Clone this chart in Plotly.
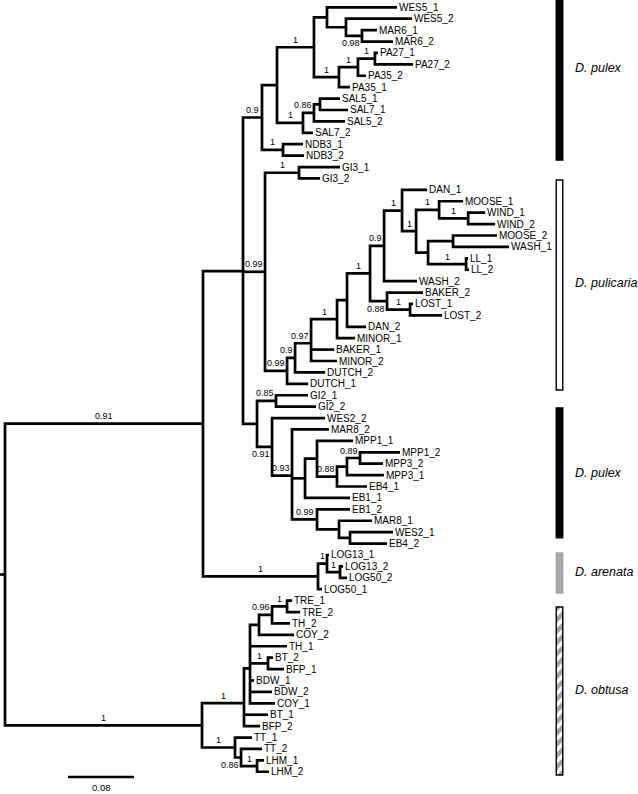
import plotly.graph_objects as go

# ---------------- data: tree in Newick pieces (branch length = subst./site, node label = support)
wes_mar = "(WES5_1:0.0848,(WES5_2:0.0800,(MAR6_1:0.0182,MAR6_2:0.0376)0.98:0.0194):0.0230):0.0158"
pa = "(((PA27_1:0.0036,PA27_2:0.0461)1:0.0206,PA35_2:0.0097)1:0.0230,PA35_1:0.0133)1:0.0303"
sal = "(((SAL5_1:0.0242,SAL7_1:0.0339):0.0073,SAL5_2:0.0376)0.86:0.0133,SAL7_2:0.0121)1:0.0315"
ndb = "(NDB3_1:0.0242,NDB3_2:0.0255)1:0.0255"
pulex_a = "(((" + wes_mar + "," + pa + ")1:0.0448," + sal + "):0.0182," + ndb + ")0.9:0.0230"

gi3 = "(GI3_1:0.0497,GI3_2:0.0255)1:0.0412"
moose_wind = "(MOOSE_1:0.0291,(WIND_1:0.0206,WIND_2:0.0327)1:0.0352)1:0.0279"
wash_ll = "((MOOSE_2:0.0533,WASH_1:0.0679):0.0303,(LL_1:0.0024,LL_2:0.0036)1:0.0461):0.0145"
dan_wash = "((DAN_1:0.0303,(" + moose_wind + "," + wash_ll + ")1:0.0170)1:0.0218,WASH_2:0.0400)0.9:0.0170"
baker_lost = "(BAKER_2:0.0436,(LOST_1:0.0036,LOST_2:0.0388)1:0.0279)0.88:0.0206"
puli_s = "(" + dan_wash + "," + baker_lost + ")1:0.0279"
puli_r = "(" + puli_s + ",DAN_2:0.0230):0.0121"
puli_t = "(" + puli_r + ",MINOR_1:0.0218)1:0.0315"
puli_u = "(" + puli_t + ",BAKER_1:0.0279,MINOR_2:0.0315)0.97:0.0194"
puli_v = "(" + puli_u + ",DUTCH_2:0.0364)0.9:0.0097"
puli_w = "(" + puli_v + ",DUTCH_1:0.0255)0.99:0.0267"
pulicaria = "(" + gi3 + "," + puli_w + ")0.99:0.0267"

gi2 = "(GI2_1:0.0388,GI2_2:0.0485)0.85:0.0230"
mpp_j = "(((MPP1_2:0.0485,MPP3_2:0.0279)0.89:0.0158,MPP3_1:0.0448):0.0121,EB4_1:0.0364)0.88:0.0242"
mpp_g = "((MPP1_1:0.0436," + mpp_j + "):0.0145,EB1_1:0.0545):0.0158"
eb = "(EB1_2:0.0400,(MAR8_1:0.0400,(WES2_1:0.0521,EB4_2:0.0448):0.0133):0.0267)0.99:0.0303"
pulex_b = "(" + gi2 + ",(WES2_2:0.0642,(MAR8_2:0.0448," + mpp_g + "," + eb + ")0.93:0.0242)0.91:0.0182):0.0170"

arenata = "((LOG13_1:0.0024,(LOG13_2:0.0036,LOG50_2:0.0085)1:0.0158)1:0.0109,LOG50_1:0.0048)1:0.1394"

tre = "(((TRE_1:0.0061,TRE_2:0.0158)1:0.0182,TH_2:0.0218)0.96:0.0158,COY_2:0.0424):0.0109"
ob1 = "(" + tre + ",TH_1:0.0448,(BT_2:0.0061,BFP_1:0.0194)1:0.0218,BDW_1:0.0048,BDW_2:0.0267,COY_1:0.0303):0.0073"
ob2 = "(" + ob1 + ",BT_1:0.0291,BFP_2:0.0194)1:0.0509"
tt = "(TT_1:0.0206,(TT_2:0.0255,(LHM_1:0.0085,LHM_2:0.0145)1:0.0194)0.86:0.0073)1:0.0400"
obtusa = "(" + ob2 + "," + tt + ")1:0.2388"

tree = "(((" + pulex_a + "," + pulicaria + "," + pulex_b + "):0.0485," + arenata + ")0.91:0.2400," + obtusa + "):0.0061;"

# support labels drawn under their branch (identified by first/last leaf)
support_below = [("MAR6_1", "MAR6_2"), ("BAKER_2", "LOST_2"), ("WES2_2", "EB4_2"), ("TT_2", "LHM_2")]

# species bars (in leaf-row units) and labels
species_names = ["D. pulex", "D. pulicaria", "D. pulex", "D. arenata", "D. obtusa"]
bar_start = [-0.64, 15.13, 35.12, 47.83, 52.56]
bar_end = [13.38, 33.54, 46.5, 51.33, 67.28]
label_row = [5.32, 24.16, 40.81, 49.49, 59.83]
bar_fill = ["black", "white", "black", "#a9a9a9", "white"]
bar_edge = ["black", "black", "black", "#a9a9a9", "black"]
bar_hatch = ["", "", "", "", "/"]

scale_len = 0.08
scale_label = "0.08"


# ---------------- parse & layout
def parse(s):
    pos = 0

    def node():
        nonlocal pos
        n = {"children": [], "name": "", "label": "", "len": 0.0}
        if s[pos] == "(":
            pos += 1
            while True:
                n["children"].append(node())
                if s[pos] == ",":
                    pos += 1
                    continue
                pos += 1
                break
        start = pos
        while s[pos] not in ":,();":
            pos += 1
        tok = s[start:pos]
        if n["children"]:
            n["label"] = tok
        else:
            n["name"] = tok
        if s[pos] == ":":
            pos += 1
            start = pos
            while s[pos] not in ",();":
                pos += 1
            n["len"] = float(s[start:pos])
        return n

    return node()


root = parse(tree)
leaves = []


def layout(n, x0):
    n["x0"] = x0
    n["x"] = x0 + n["len"]
    if n["children"]:
        for c in n["children"]:
            layout(c, n["x"])
        n["y"] = sum(c["y"] for c in n["children"]) / len(n["children"])
        n["first"] = n["children"][0]["first"]
        n["last"] = n["children"][-1]["last"]
    else:
        n["y"] = len(leaves)
        n["first"] = n["last"] = n["name"]
        leaves.append(n)


layout(root, -root["len"])

W, H = 638, 794
root_px = 5.0
ppu = 825.0
xmin = -root_px / ppu
xmax = (W - root_px) / ppu
row0_px, row_px = 7.3, 11.41
ytop = -row0_px / row_px
ybot = (H - row0_px) / row_px

xs, ys = [root["x0"], root["x"], None], [root["y"], root["y"], None]
internals = []


def segs(n):
    if not n["children"]:
        return
    internals.append(n)
    ch = n["children"]
    a, b = ch[0], ch[-1]
    xs.extend([a["x"], n["x"], n["x"], b["x"], None])
    ys.extend([a["y"], a["y"], b["y"], b["y"], None])
    for c in ch[1:-1]:
        xs.extend([n["x"], c["x"], None])
        ys.extend([c["y"], c["y"], None])
    for c in ch:
        segs(c)


segs(root)

fig = go.Figure()
fig.add_trace(go.Scatter(x=xs, y=ys, mode="lines", line=dict(color="black", width=2.7),
                         hoverinfo="skip"))

# species bars
bar_x = (556 + 563) / 2.0
fig.add_trace(go.Bar(
    x=[(bar_x - root_px) / ppu] * len(species_names),
    base=bar_start,
    y=[e - s for s, e in zip(bar_start, bar_end)],
    width=[6.5 / ppu] * len(species_names),
    marker=dict(color=bar_fill, line=dict(color=bar_edge, width=1.4),
                pattern=dict(shape=bar_hatch, fgcolor="black", bgcolor="white", size=8, solidity=0.55)),
    hoverinfo="skip"))

# scale bar
sb_x0 = (68 - root_px) / ppu
sb_row = (777 - row0_px) / row_px
fig.add_trace(go.Scatter(x=[sb_x0, sb_x0 + scale_len], y=[sb_row, sb_row], mode="lines",
                         line=dict(color="black", width=2.7), hoverinfo="skip"))

FONT = "Liberation Sans, Arial, Helvetica, sans-serif"
ann = []
for lf in leaves:
    ann.append(dict(x=lf["x"], y=lf["y"], text=lf["name"], showarrow=False, xanchor="left",
                    yanchor="middle", xshift=0, font=dict(family=FONT, size=10, color="black")))


def text_w(t, size):
    return sum(0.278 if ch == "." else 0.556 for ch in t) * size


below = set(support_below)
for n in internals:
    if not n["label"] or n is root:
        continue
    w = text_w(n["label"], 9)
    centre = (n["x0"] + n["x"]) / 2.0
    limit = n["x"] - (2 + w / 2.0) / ppu
    cx = min(centre, limit)
    is_below = (n["first"], n["last"]) in below
    ann.append(dict(x=cx, y=n["y"], text=n["label"], showarrow=False, xanchor="center",
                    yanchor="top" if is_below else "bottom", yshift=-0.5 if is_below else 0.5,
                    font=dict(family=FONT, size=9, color="black")))

for name, r in zip(species_names, label_row):
    ann.append(dict(x=(573 - root_px) / ppu, y=r, text="<i>" + name + "</i>", showarrow=False,
                    xanchor="left", yanchor="middle", font=dict(family=FONT, size=12.5, color="black")))

ann.append(dict(x=sb_x0 + scale_len / 2, y=(787 - row0_px) / row_px, text=scale_label, showarrow=False,
                xanchor="center", yanchor="middle", font=dict(family=FONT, size=9.5, color="black")))

fig.update_layout(
    width=W, height=H, margin=dict(l=0, r=0, t=0, b=0),
    paper_bgcolor="white", plot_bgcolor="white", showlegend=False, barmode="overlay",
    xaxis=dict(range=[xmin, xmax], visible=False, fixedrange=True),
    yaxis=dict(range=[ybot, ytop], visible=False, fixedrange=True),
    annotations=ann,
)
fig.write_html("out.html", config={"displayModeBar": False},
               post_script="document.body.style.margin='0px';")
